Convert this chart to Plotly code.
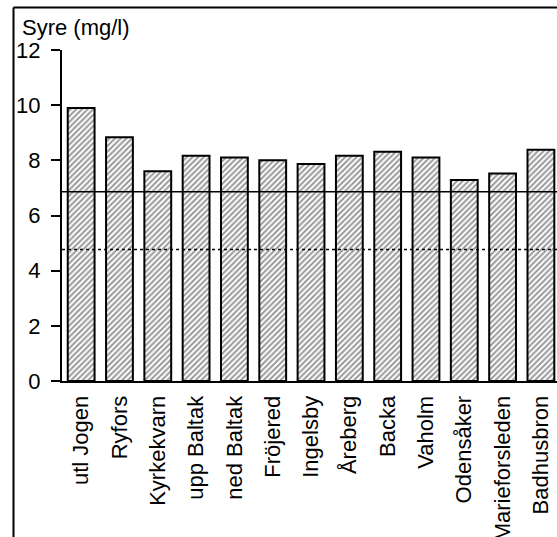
import plotly.graph_objects as go

# Measuring stations along the river
stations = ["utl Jogen", "Ryfors", "Kyrkekvarn", "upp Baltak", "ned Baltak",
            "Fröjered", "Ingelsby", "Åreberg", "Backa", "Vaholm",
            "Odensåker", "Marieforsleden", "Badhusbron"]
# Dissolved oxygen, mg/l
oxygen = [9.9, 8.84, 7.6, 8.17, 8.1, 8.0, 7.87, 8.17, 8.31, 8.1, 7.29, 7.52, 8.38]
# Reference levels drawn across the chart
level_solid = 6.86
level_dotted = 4.77

y_ticks = [0, 2, 4, 6, 8, 10, 12]

W, H = 557, 537
ML, MR, MT, MB = 62, 0, 50, 156
plot_w = W - ML - MR
plot_h = H - MT - MB

FONT = "Liberation Sans, Arial, Helvetica, sans-serif"

x_pos = list(range(len(stations)))

fig = go.Figure()
fig.add_trace(go.Bar(
    x=x_pos,
    y=oxygen,
    width=0.7,
    marker=dict(
        color="white",
        line=dict(color="black", width=2),
        pattern=dict(shape="/", fgcolor="#333333", bgcolor="white",
                     size=4, solidity=0.5),
    ),
    hoverinfo="x+y",
))

x_lo, x_hi = -0.5, 12.42

# Horizontal reference lines
fig.add_shape(type="line", xref="paper", yref="y", x0=0, x1=1,
              y0=level_solid, y1=level_solid,
              line=dict(color="black", width=1.5))
fig.add_shape(type="line", xref="paper", yref="y", x0=0, x1=1,
              y0=level_dotted, y1=level_dotted,
              line=dict(color="black", width=1.5, dash="dot"))

# Frame around the chart (left and top edges)
def px_to_paper_x(px):
    return (px - ML) / plot_w

def px_to_paper_y(py):
    return (H - MB - py) / plot_h

fig.add_shape(type="line", xref="paper", yref="paper",
              x0=px_to_paper_x(13.5), x1=px_to_paper_x(13.5),
              y0=px_to_paper_y(H + 5), y1=px_to_paper_y(7.5),
              line=dict(color="black", width=2))
fig.add_shape(type="line", xref="paper", yref="paper",
              x0=px_to_paper_x(13.5), x1=px_to_paper_x(W + 5),
              y0=px_to_paper_y(7.5), y1=px_to_paper_y(7.5),
              line=dict(color="black", width=2))

fig.add_annotation(
    text="Syre (mg/l)", xref="paper", yref="paper",
    x=px_to_paper_x(20), y=px_to_paper_y(27),
    xanchor="left", yanchor="middle", showarrow=False,
    font=dict(family=FONT, size=22, color="black"),
)

fig.update_layout(
    width=W, height=H,
    margin=dict(l=ML, r=MR, t=MT, b=MB, pad=0, autoexpand=False),
    paper_bgcolor="white",
    plot_bgcolor="white",
    showlegend=False,
    font=dict(family=FONT, size=22, color="black"),
    bargap=0.3,
)
fig.update_xaxes(
    range=[x_lo, x_hi], automargin=False,
    tickmode="array", tickvals=x_pos, ticktext=stations,
    tickangle=-90,
    ticks="", showgrid=False, zeroline=False,
    showline=True, linecolor="black", linewidth=2,
    ticklabelstandoff=4,
    tickfont=dict(family=FONT, size=22, color="black"),
)
fig.update_yaxes(
    range=[0, 12], automargin=False,
    tickmode="array", tickvals=y_ticks,
    ticks="outside", ticklen=9, tickwidth=2, tickcolor="black",
    showgrid=False, zeroline=False,
    showline=True, linecolor="black", linewidth=2,
    ticklabelstandoff=6,
    tickfont=dict(family=FONT, size=22, color="black"),
)

fig.write_html("out.html")
